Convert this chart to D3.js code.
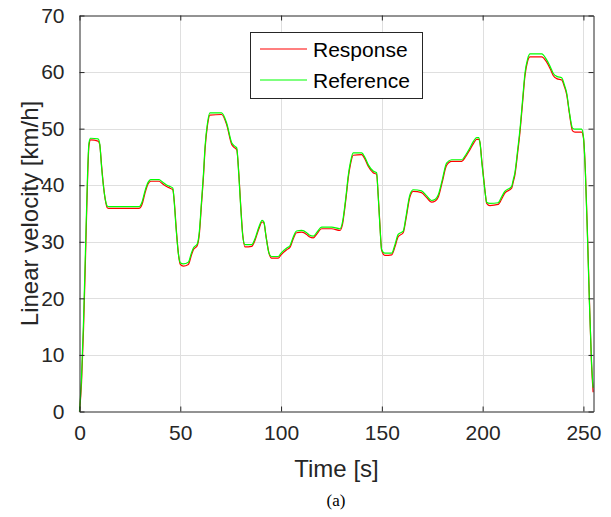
<!DOCTYPE html>
<html><head><meta charset="utf-8">
<script src="https://cdn.jsdelivr.net/npm/d3@7"></script>
<style>body{margin:0;background:#fff}svg{display:block}</style>
</head><body>
<script>
const time = [0,1,2,3,4,4.7,5.5,9.2,10,11,11.7,12.8,13.8,14.5,29.5,31,32.5,34,35.3,39.5,41,43,44.7,46.3,47,48,49.2,50,51.5,54,55.5,56.5,58.4,59.5,60.5,61.5,62.3,63.5,64.7,70.5,73,75.5,77,78,79,80,81,82.1,85.4,87,89,90.6,91.5,92.5,94,95.3,98.6,100,102.8,104.4,106,107.7,110.2,112.7,114,116,118,120.1,125.1,129.2,130.5,131.5,132.5,133.3,134.5,135.8,140,141.5,143.3,145.7,147.4,148.2,149,149.9,151.5,154.9,156.5,158.1,160.6,162,163.9,165.6,169.7,172,174.7,176.5,178,180,182.1,184.6,189.6,191.5,193.7,195.5,197,198,198.7,199.6,200.5,201.3,202,203.6,207.7,209.5,211,214.4,215.2,216,217.3,218.5,219.8,221,222.3,223.5,229.3,231.7,233.5,235,237,239.2,240.5,241.7,243,244.6,245.8,249.1,250,251,252,253,254,254.8];
const reference = [0,6,16,29,42,47.5,48.3,48.2,47.4,43,40.4,37.5,36.3,36.2,36.2,37,39,40.5,41.0,41.0,40.6,40.1,39.8,39.5,37,32,27.5,26.3,26.1,26.4,28,28.9,29.6,32,37,42,46.9,51,52.8,52.8,51.0,47.5,46.9,46.6,42,36,31,29.5,29.5,30.5,32.6,33.8,33.5,31,28,27.4,27.4,28,28.9,29.3,30.8,31.9,32.0,31.6,31.2,31.0,31.8,32.6,32.6,32.3,33.5,36,39,41.6,44.2,45.7,45.7,45.0,43.6,42.5,42.2,38,33,28.6,28.0,28.0,29.5,31.3,31.9,34.5,38.3,39.2,39.0,38.2,37.3,37.5,38.3,41,43.9,44.5,44.5,45.3,46.6,47.8,48.4,48.4,47.5,44,41,38.5,37,36.8,36.9,38,38.9,39.8,41,42.2,46,49.8,55,59.8,62.3,63.2,63.2,62.2,61,59.8,59.2,59.0,57.8,56.3,53,50.1,49.9,49.9,48.6,42,31,19,9,4.2];
const response = [0,5,14.5,27.5,41,47,48.0,47.8,47.2,43.3,40.6,37.4,36.0,35.9,35.9,36.6,38.6,40.2,40.7,40.7,40.3,39.8,39.5,39.2,37.2,32.3,27.5,26.0,25.7,26.0,27.6,28.6,29.3,31.5,36.5,41.5,46.4,50.6,52.4,52.5,50.7,47.2,46.6,46.3,42.3,36.3,31.2,29.1,29.2,30.2,32.3,33.5,33.3,31.1,28.0,27.1,27.1,27.7,28.6,29.0,30.5,31.6,31.7,31.3,30.9,30.7,31.5,32.3,32.3,32.0,33.1,35.6,38.6,41.2,43.8,45.3,45.4,44.7,43.3,42.2,41.9,38.2,33.3,28.5,27.6,27.7,29.1,30.9,31.6,34.1,37.9,38.9,38.7,37.9,37.0,37.2,37.9,40.6,43.5,44.2,44.2,45.0,46.3,47.4,48.1,48.1,47.5,44.3,41.3,38.6,36.8,36.4,36.6,37.6,38.6,39.5,40.6,41.8,45.5,49.3,54.5,59.3,61.9,62.7,62.7,61.8,60.6,59.4,58.8,58.6,57.5,56.0,52.8,49.6,49.4,49.4,48.4,42.2,31.5,19.5,8.5,3.4];
const xTicks = [0,50,100,150,200,250];
const yTicks = [0,10,20,30,40,50,60,70];
const seriesNames = ["Response","Reference"];
const seriesColors = ["#ff0000","#00ff00"];

const W = 611, H = 517;
const m = {left:79.5, right:593.5, top:15.5, bottom:411.5};
const svg = d3.select("body").append("svg").attr("width",W).attr("height",H);
const x = d3.scaleLinear().domain([0,255]).range([m.left,m.right]);
const y = d3.scaleLinear().domain([0,70]).range([m.bottom,m.top]);
const axisColor = "#262626";
const font = "'Liberation Sans', Arial, sans-serif";

// grid
const grid = svg.append("g").attr("stroke","#dfdfdf").attr("stroke-width",1);
grid.selectAll(".gx").data(xTicks.filter(d=>d>0)).join("line")
  .attr("x1",d=>Math.round(x(d))+0.5).attr("x2",d=>Math.round(x(d))+0.5)
  .attr("y1",m.top).attr("y2",m.bottom);
grid.selectAll(".gy").data(yTicks.filter(d=>d>0&&d<70)).join("line")
  .attr("y1",d=>Math.round(y(d))+0.5).attr("y2",d=>Math.round(y(d))+0.5)
  .attr("x1",m.left).attr("x2",m.right);

// lines
const pts = (vals)=> time.map((t,i)=>[t,vals[i]]);
const line = d3.line().x(d=>x(d[0])).y(d=>y(d[1])).curve(d3.curveMonotoneX);
const plot = svg.append("g");
plot.append("path").datum(pts(response)).attr("d",line).attr("fill","none")
  .attr("stroke",seriesColors[0]).attr("stroke-width",1.2);
plot.append("path").datum(pts(reference)).attr("d",line).attr("fill","none")
  .attr("stroke",seriesColors[1]).attr("stroke-width",1.2);

// axes
const tickStyle = g=>{
  g.select(".domain").attr("stroke",axisColor);
  g.selectAll(".tick line").attr("stroke",axisColor);
  g.selectAll("text").attr("fill",axisColor).style("font-family",font).style("font-size","21px");
};
svg.append("g").attr("transform",`translate(0,${m.bottom})`)
  .call(d3.axisBottom(x).tickValues(xTicks).tickSizeInner(-5).tickSizeOuter(0).tickPadding(14))
  .call(tickStyle);
svg.append("g").attr("transform",`translate(${m.left},0)`)
  .call(d3.axisLeft(y).tickValues(yTicks).tickSizeInner(-5).tickSizeOuter(0).tickPadding(15))
  .call(tickStyle);
svg.append("g").attr("transform",`translate(0,${m.top})`)
  .call(d3.axisTop(x).tickValues(xTicks).tickSizeInner(-5).tickSizeOuter(0).tickFormat(""))
  .call(tickStyle);
svg.append("g").attr("transform",`translate(${m.right},0)`)
  .call(d3.axisRight(y).tickValues(yTicks).tickSizeInner(-5).tickSizeOuter(0).tickFormat(""))
  .call(tickStyle);

// labels
svg.append("text").attr("x",(m.left+m.right)/2).attr("y",477).attr("text-anchor","middle")
  .attr("fill",axisColor).style("font-family",font).style("font-size","24px").text("Time [s]");
svg.append("text").attr("transform",`translate(38,${(m.top+m.bottom)/2}) rotate(-90)`)
  .attr("text-anchor","middle").attr("fill",axisColor).style("font-family",font).style("font-size","24px")
  .text("Linear velocity [km/h]");
svg.append("text").attr("x",336).attr("y",506).attr("text-anchor","middle")
  .attr("fill","#000").style("font-family","'Liberation Serif','Times New Roman',serif").style("font-size","17px").text("(a)");

// legend
const lg = svg.append("g");
lg.append("rect").attr("x",250.5).attr("y",32.5).attr("width",172).attr("height",66)
  .attr("fill","#fff").attr("stroke",axisColor).attr("stroke-width",1);
seriesNames.forEach((n,i)=>{
  const yy = 49 + i*31;
  lg.append("line").attr("x1",260).attr("x2",307).attr("y1",yy).attr("y2",yy)
    .attr("stroke",seriesColors[i]).attr("stroke-width",1.2);
  lg.append("text").attr("x",313).attr("y",yy+8).attr("fill","#000")
    .style("font-family",font).style("font-size","21px").text(n);
});
</script>
</body></html>
